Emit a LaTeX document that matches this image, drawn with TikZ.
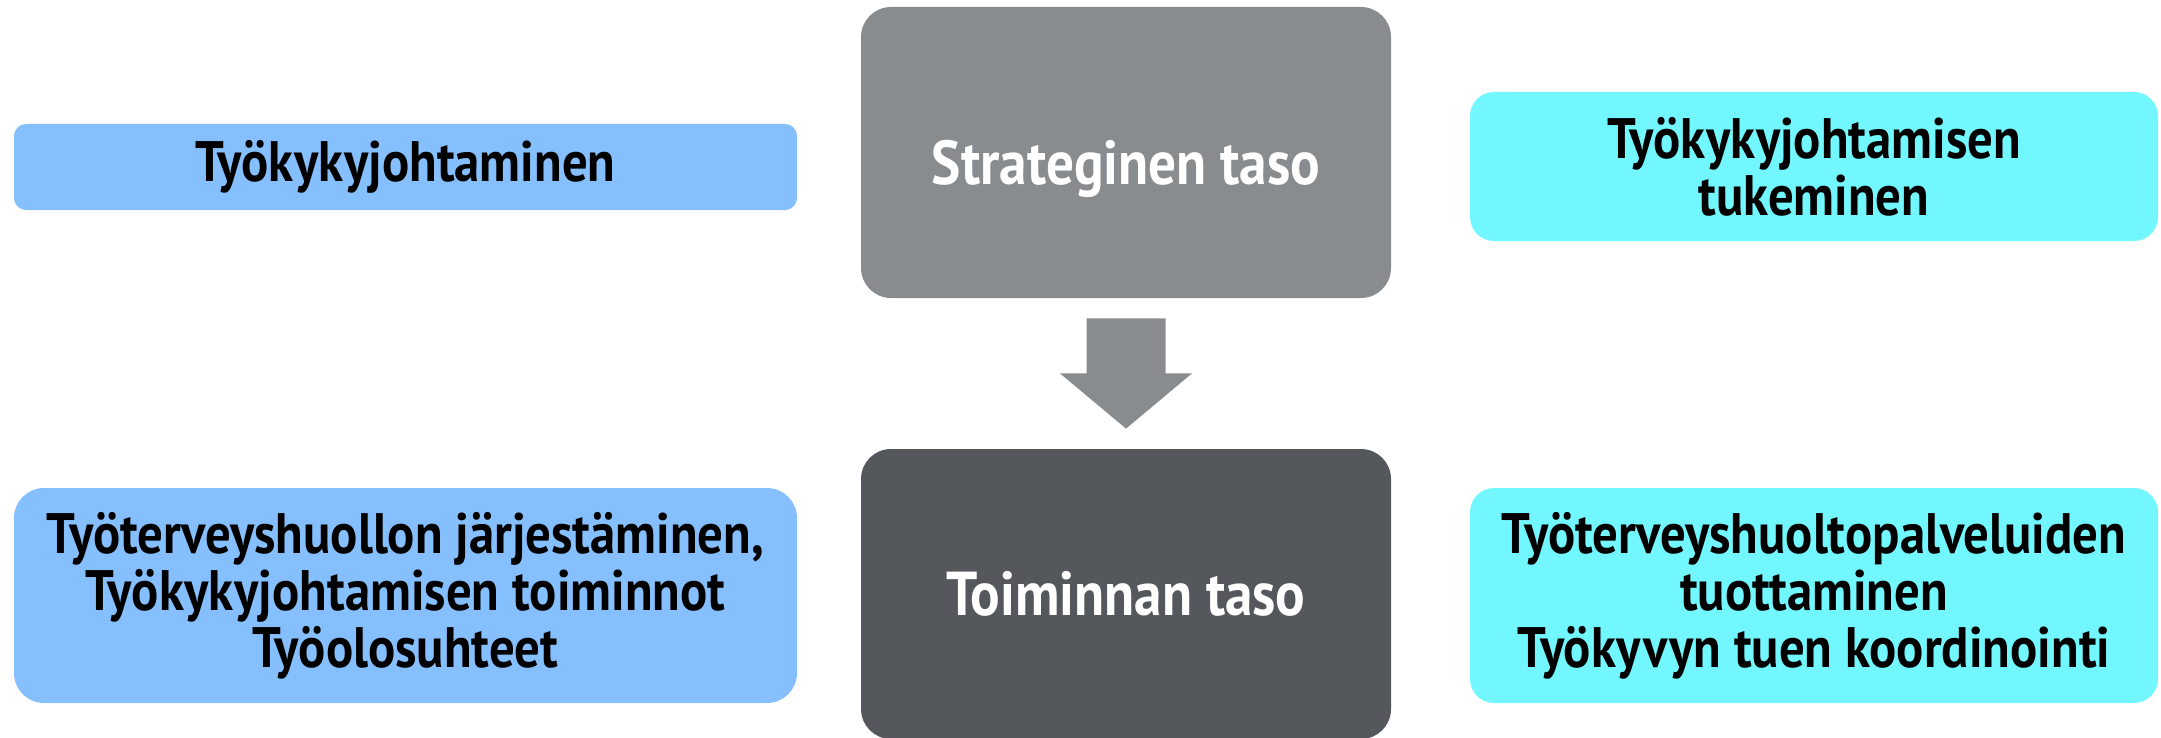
\documentclass[tikz,border=0pt]{standalone}
\usepackage{fontspec}
\setmainfont{PT Sans}[FakeStretch=0.89]
\usetikzlibrary{calc}
\definecolor{lblue}{HTML}{86BFFD}
\definecolor{lcyan}{HTML}{72F7FE}
\definecolor{mgray}{HTML}{898C8F}
\definecolor{dgray}{HTML}{54575C}
\tikzset{
  box/.style={rectangle, rounded corners=#1, inner sep=0pt, align=center, font=\bfseries\fontsize{28.5}{28.5}\selectfont},
  lbox/.style={box=6pt, fill=lblue, text=black},
  cbox/.style={box=12pt, fill=lcyan, text=black},
  gbox/.style={box=15pt, text=white, font=\bfseries\fontsize{31}{31}\selectfont},
}
\begin{document}
\begin{tikzpicture}[x=0.5pt,y=-0.5pt]
\useasboundingbox (0,0) rectangle (2161,738);
\node[lbox, minimum width=391.5pt, minimum height=43pt] (l1) at (405.5,167) {Työkykyjohtaminen};
\node[gbox, fill=mgray, minimum width=265pt, minimum height=145.5pt, text height=39pt, text depth=7pt] (top) at (1126,152.5) {Strateginen taso};
\node[cbox, minimum width=344pt, minimum height=74.5pt] (r1) at (1814,166.5) {Työkykyjohtamisen\\tukeminen};
\node[gbox, fill=dgray, minimum width=265pt, minimum height=145pt] (bot) at (1126,594) {Toiminnan taso};
\node[lbox, box=15pt, minimum width=391.5pt, minimum height=107.5pt] (l2) at (405.5,595.5) {Työterveyshuollon järjestäminen,\\Työkykyjohtamisen toiminnot\\Työolosuhteet};
\node[cbox, minimum width=344pt, minimum height=107.5pt] (r2) at (1814,595.5) {Työterveyshuoltopalveluiden\\tuottaminen\\Työkyvyn tuen koordinointi};
\coordinate (as) at ($(top.south)+(0,20)$);
\coordinate (at) at ($(bot.north)+(0,-20)$);
\fill[mgray] ($(as)+(-39.5,0)$) -- ($(as)+(39.5,0)$) -- ($(as)+(39.5,55)$) -- ($(as)+(66,55)$) -- (at) -- ($(as)+(-66,55)$) -- ($(as)+(-39.5,55)$) -- cycle;
\end{tikzpicture}
\end{document}
